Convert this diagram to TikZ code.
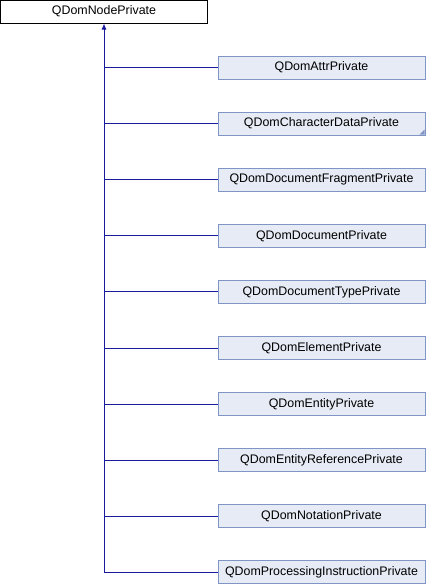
\documentclass[tikz,border=0pt]{standalone}
\usepackage{fontspec}
\setmainfont{Liberation Sans}
\usepackage{tikz}
\usepackage{xcolor}
\usetikzlibrary{arrows.meta,positioning,calc}

\definecolor{edgeblue}{HTML}{1A1A9C}
\definecolor{subfill}{HTML}{E6EBF5}
\definecolor{subdraw}{HTML}{7F95C6}

\begin{document}
\begin{tikzpicture}[x=1pt,y=-1pt,>=Latex,
  font=\fontsize{12.4}{14}\selectfont,
  base/.style={draw=black,fill=white,line width=1pt,minimum width=207pt,minimum height=23pt,inner sep=0pt},
  sub/.style={draw=subdraw,fill=subfill,line width=1pt,minimum width=207pt,minimum height=23pt,inner sep=0pt},
  edge/.style={draw=edgeblue,line width=1pt}]
  \useasboundingbox (0,0) rectangle (426,584);
  % base class
  \node[base] (QDomNodePrivate) at (104,11.5) {QDomNodePrivate};
  % derived classes
  \foreach \nm [count=\i] in {QDomAttrPrivate,QDomCharacterDataPrivate,
      QDomDocumentFragmentPrivate,QDomDocumentPrivate,QDomDocumentTypePrivate,
      QDomElementPrivate,QDomEntityPrivate,QDomEntityReferencePrivate,
      QDomNotationPrivate,QDomProcessingInstructionPrivate}
    \node[sub] (c\i) at ({321.5},{67.5+56.1*(\i-1)}) {\nm};
  % more children marker
  \fill[subdraw] ($(c2.south east)+(-1,-1)$) -- ++(-5,0) -- ++(5,-5) -- cycle;
  % inheritance trunk
  \coordinate (trunk) at (c10.west -| QDomNodePrivate.south);
  \draw[edge,{Latex[length=6pt,width=5pt]}-] (QDomNodePrivate.south) -- (trunk);
  \foreach \i in {1,...,10}
    \draw[edge] (c\i.west) -- (c\i.west -| QDomNodePrivate.south);
\end{tikzpicture}
\end{document}
